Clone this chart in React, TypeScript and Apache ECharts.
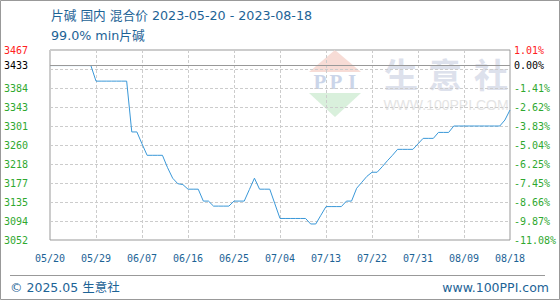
import React, { useEffect, useRef } from "react";
import * as echarts from "echarts";

const TITLE = "片碱 国内 混合价 2023-05-20 - 2023-08-18";
const SUBTITLE = "99.0% min片碱";
const FOOTER_LEFT = "© 2025.05 生意社";
const FOOTER_RIGHT = "www.100PPI.com";

const START_DATE = [2023, 4, 20];
const DAY_COUNT = 91;

// daily price, 2023-05-20 .. 2023-08-18
const PRICES = [
  3433, 3433, 3433, 3433, 3433, 3433, 3433, 3433, 3433,
  3399, 3399, 3399, 3399, 3399, 3399, 3399,
  3288, 3288, 3262,
  3237, 3237, 3237, 3237,
  3210, 3187, 3175, 3173,
  3163, 3163, 3163,
  3137, 3137,
  3126, 3126, 3126, 3126,
  3137, 3137, 3137,
  3162, 3187,
  3163, 3163, 3163,
  3131,
  3099, 3099, 3099, 3099, 3099, 3099,
  3087, 3087,
  3106,
  3125, 3125, 3125, 3125,
  3137, 3137,
  3165, 3178, 3191,
  3200, 3200,
  3212, 3225, 3237,
  3250, 3250, 3250, 3250,
  3262,
  3274, 3274, 3274,
  3287, 3287, 3287,
  3301, 3301, 3301, 3301, 3301, 3301, 3301, 3301, 3301, 3301,
  3314, 3336,
];

const BASE_VALUE = 3433;
const BASE_LEFT_LABEL = "3433";
const BASE_RIGHT_LABEL = "0.00%";
const Y_MIN = 3052;
const Y_MAX = 3467;
const LEFT_LABELS = ["3052", "3094", "3135", "3177", "3218", "3260", "3301", "3343", "3384", "", "3467"];
const RIGHT_LABELS = ["-11.08%", "-9.87%", "-8.66%", "-7.45%", "-6.25%", "-5.04%", "-3.83%", "-2.62%", "-1.41%", "", "1.01%"];

const pad = (n: number) => (n < 10 ? "0" + n : "" + n);
const DATES: string[] = [];
for (let i = 0; i < DAY_COUNT; i++) {
  const d = new Date(START_DATE[0], START_DATE[1], START_DATE[2] + i);
  DATES.push(pad(d.getMonth() + 1) + "/" + pad(d.getDate()));
}

const BLUE_TEXT = "#1d6396";
const GREEN = "#2fa82f";
const RED = "#ff2020";
const MONO = "'DejaVu Sans Mono', 'Liberation Mono', monospace";
const SANS = "'DejaVu Sans', 'Noto Sans CJK SC', sans-serif";

export default function App() {
  const ref = useRef<HTMLDivElement>(null);
  useEffect(() => {
    if (!ref.current) return;
    const chart = echarts.init(ref.current, null, { renderer: "svg" });
    const labelRich = {
      g: { color: GREEN, fontFamily: MONO, fontSize: 10 },
      r: { color: RED, fontFamily: MONO, fontSize: 10 },
    };
    const fmt = (arr: string[]) => (v: number) => {
      const i = Math.round(v);
      const t = arr[i] || "";
      if (!t) return "";
      return i === 10 ? `{r|${t}}` : `{g|${t}}`;
    };
    const ppiLetter = (ch: string, x: number) => ({
      type: "text",
      x,
      y: 82,
      style: {
        text: ch,
        fill: "#cbd5e9",
        font: "bold 21px 'Liberation Serif', serif",
        align: "center",
        verticalAlign: "middle",
      },
    });
    const option: any = {
      animation: false,
      backgroundColor: "#ffffff",
      grid: {
        left: 50,
        right: 50,
        top: 50,
        bottom: 60,
        show: true,
        borderColor: "#999999",
        borderWidth: 1,
        backgroundColor: "transparent",
      },
      xAxis: {
        type: "category",
        data: DATES,
        boundaryGap: false,
        axisLine: { show: false },
        axisTick: { show: false },
        axisLabel: {
          interval: 8,
          color: BLUE_TEXT,
          fontFamily: MONO,
          fontSize: 10,
          margin: 13,
        },
        splitLine: {
          show: true,
          interval: 8,
          lineStyle: { color: "#cccccc", type: [3, 2], width: 1 },
        },
      },
      yAxis: [
        {
          type: "value",
          min: Y_MIN,
          max: Y_MAX,
          show: false,
        },
        {
          type: "value",
          position: "left",
          min: 0,
          max: 10,
          interval: 1,
          axisLine: { show: false },
          axisTick: { show: false },
          axisLabel: { formatter: fmt(LEFT_LABELS), margin: 22, rich: labelRich },
          splitLine: { show: true, lineStyle: { color: "#cccccc", type: [3, 2], width: 1 } },
        },
        {
          type: "value",
          position: "right",
          min: 0,
          max: 10,
          interval: 1,
          axisLine: { show: false },
          axisTick: { show: false },
          axisLabel: { formatter: fmt(RIGHT_LABELS), margin: 4, rich: labelRich },
          splitLine: { show: false },
        },
      ],
      series: [
        {
          type: "line",
          data: PRICES,
          yAxisIndex: 0,
          showSymbol: false,
          symbol: "none",
          lineStyle: { color: "#3a98d8", width: 1 },
          itemStyle: { color: "#3a98d8" },
          z: 3,
          markLine: {
            silent: true,
            symbol: "none",
            animation: false,
            lineStyle: { color: "#999999", type: "solid", width: 1 },
            data: [
              {
                yAxis: BASE_VALUE,
                label: {
                  position: "start",
                  formatter: BASE_LEFT_LABEL,
                  color: "#000000",
                  fontFamily: MONO,
                  fontSize: 10,
                  distance: 22,
                },
              },
              {
                yAxis: BASE_VALUE,
                label: {
                  position: "end",
                  formatter: BASE_RIGHT_LABEL,
                  color: "#000000",
                  fontFamily: MONO,
                  fontSize: 10,
                  distance: 4,
                },
              },
            ],
          },
        },
      ],
      graphic: [
        // watermark
        {
          type: "group",
          silent: true,
          z: -5,
          children: [
            { type: "polygon", shape: { points: [[335, 50], [309, 72], [361, 72]] }, style: { fill: "#f7dcd6" } },
            { type: "polygon", shape: { points: [[309, 93], [361, 93], [335, 117]] }, style: { fill: "#d9f0dc" } },
            ppiLetter("P", 320),
            ppiLetter("P", 336),
            ppiLetter("I", 352),
            { type: "text", x: 401, y: 73, style: { text: "生", fill: "#dde1ec", font: "bold 34px 'Noto Sans CJK SC'", align: "center", verticalAlign: "middle" } },
            { type: "text", x: 445, y: 73, style: { text: "意", fill: "#dde1ec", font: "bold 34px 'Noto Sans CJK SC'", align: "center", verticalAlign: "middle" } },
            { type: "text", x: 491, y: 73, style: { text: "社", fill: "#dde1ec", font: "bold 34px 'Noto Sans CJK SC'", align: "center", verticalAlign: "middle" } },
            {
              type: "text",
              x: 446,
              y: 105,
              style: {
                text: "WWW.100PPI.COM",
                fill: "#e4e4e4",
                font: "14px 'Liberation Sans', sans-serif",
                align: "center",
                verticalAlign: "middle",
              },
            },
          ],
        },
        {
          type: "rect",
          silent: true,
          z: 10,
          shape: { x: 0.5, y: 0.5, width: 559, height: 299 },
          style: { fill: "none", stroke: "#999999", lineWidth: 1 },
        },
        {
          type: "line",
          silent: true,
          shape: { x1: 10, y1: 275.5, x2: 545, y2: 275.5 },
          style: { stroke: "#999999", lineWidth: 1 },
        },
        {
          type: "text",
          x: 51,
          y: 15,
          style: { text: TITLE, fill: BLUE_TEXT, font: `12.7px ${SANS}`, verticalAlign: "middle" },
        },
        {
          type: "text",
          x: 51,
          y: 35,
          style: { text: SUBTITLE, fill: BLUE_TEXT, font: `12.7px ${SANS}`, verticalAlign: "middle" },
        },
        {
          type: "text",
          x: 10,
          y: 287,
          style: { text: FOOTER_LEFT, fill: BLUE_TEXT, font: `12.5px ${SANS}`, verticalAlign: "middle" },
        },
        {
          type: "text",
          x: 549,
          y: 287,
          style: { text: FOOTER_RIGHT, fill: BLUE_TEXT, font: `12.5px ${SANS}`, align: "right", verticalAlign: "middle" },
        },
      ],
    };
    chart.setOption(option);
    return () => chart.dispose();
  }, []);
  return (
    <div
      ref={ref}
      style={{ position: "fixed", left: 0, top: 0, width: 560, height: 300, background: "#fff" }}
    />
  );
}
